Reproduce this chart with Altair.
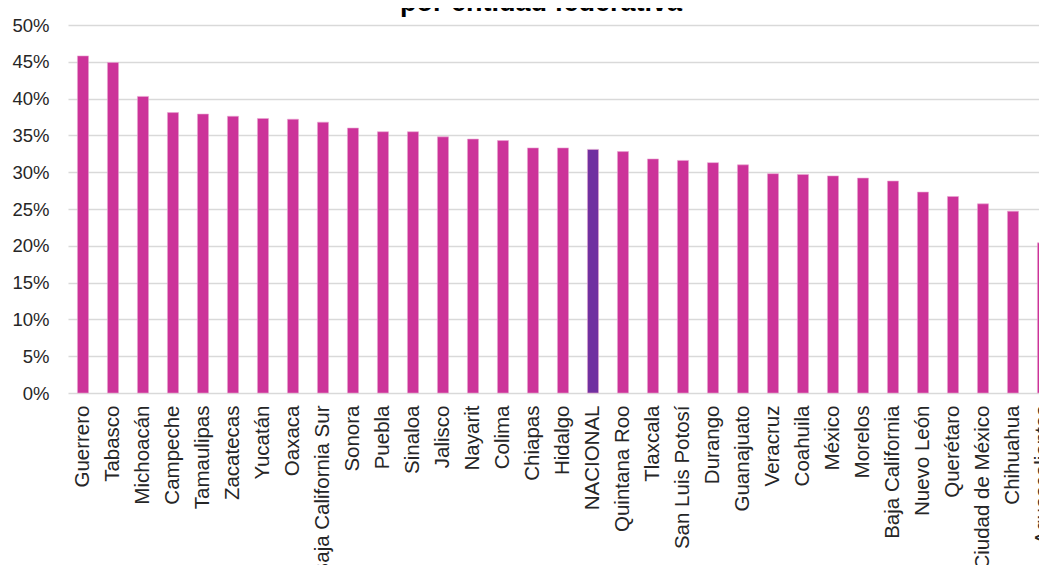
import altair as alt
import pandas as pd

estados = ["Guerrero", "Tabasco", "Michoacán", "Campeche", "Tamaulipas", "Zacatecas",
           "Yucatán", "Oaxaca", "Baja California Sur", "Sonora", "Puebla", "Sinaloa",
           "Jalisco", "Nayarit", "Colima", "Chiapas", "Hidalgo", "NACIONAL",
           "Quintana Roo", "Tlaxcala", "San Luis Potosí", "Durango", "Guanajuato",
           "Veracruz", "Coahuila", "México", "Morelos", "Baja California", "Nuevo León",
           "Querétaro", "Ciudad de México", "Chihuahua", "Aguascalientes"]
valores = [45.8, 44.9, 40.3, 38.1, 37.9, 37.6,
           37.3, 37.2, 36.8, 36.0, 35.5, 35.5,
           34.8, 34.5, 34.3, 33.3, 33.3, 33.1,
           32.8, 31.8, 31.6, 31.3, 31.0,
           29.8, 29.7, 29.5, 29.2, 28.8, 27.3,
           26.7, 25.7, 24.7, 20.4]
titulo = "por entidad federativa"
y_ticks = [0, 0.05, 0.10, 0.15, 0.20, 0.25, 0.30, 0.35, 0.40, 0.45, 0.50]

df = pd.DataFrame({
    "estado": estados,
    "valor": [v / 100 for v in valores],
    "tipo": ["Nacional" if e == "NACIONAL" else "Estado" for e in estados],
})

bars = alt.Chart(df).mark_bar(stroke="#e9a6d2", strokeWidth=0.6).encode(
    x=alt.X("estado:N", sort=None, title=None,
            scale=alt.Scale(paddingInner=0.63, paddingOuter=0.315),
            axis=alt.Axis(labelAngle=-90, labelAlign="right", labelBaseline="middle",
                          labelFont="Liberation Sans", labelFontSize=20.5,
                          labelColor="#262626", labelPadding=12, ticks=False,
                          domain=False, grid=False, labelOverlap=False,
                          labelLimit=400)),
    y=alt.Y("valor:Q", title=None,
            scale=alt.Scale(domain=[0, 0.5], nice=False),
            axis=alt.Axis(values=y_ticks, format=".0%", labelFont="Liberation Sans",
                          labelFontSize=18.5, labelColor="#262626", labelPadding=19,
                          ticks=False, domain=False, grid=True, gridColor="#d9d9d9",
                          gridWidth=1.6)),
    color=alt.Color("tipo:N", legend=None,
                    scale=alt.Scale(domain=["Estado", "Nacional"],
                                    range=["#cc3399", "#7030a0"])),
)

title_df = pd.DataFrame({"t": [titulo]})
title = alt.Chart(title_df).mark_text(
    font="Liberation Sans", fontSize=27, fontWeight="bold", color="#000000",
    align="center", baseline="alphabetic"
).encode(text="t:N", x=alt.value(473), y=alt.value(-14))

chart = alt.layer(bars, title).properties(
    width=990, height=368,
    autosize=alt.AutoSizeParams(type="none"),
    padding={"left": 60, "top": 17, "right": -19, "bottom": 172},
).configure_view(stroke=None)

chart.save("out.html", embed_options={"renderer": "svg", "actions": False})
